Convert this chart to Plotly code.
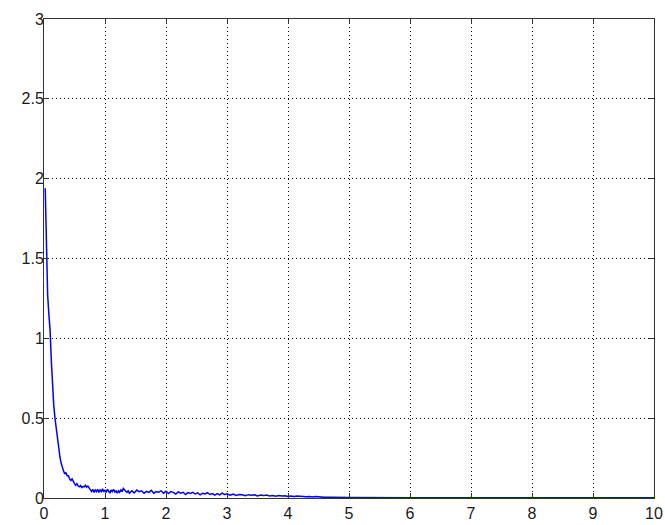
import plotly.graph_objects as go

# Sampled response: time (s) and amplitude
t = [0.02, 0.03, 0.04, 0.05, 0.06, 0.08, 0.10, 0.12, 0.14, 0.16, 0.18, 0.20,
     0.22, 0.24, 0.26, 0.28, 0.30, 0.32, 0.34, 0.36, 0.38, 0.40, 0.42, 0.44,
     0.46, 0.48, 0.50, 0.52, 0.54, 0.56, 0.58, 0.60, 0.62, 0.64, 0.66, 0.68,
     0.70, 0.72, 0.74, 0.76, 0.78, 0.80, 0.82, 0.84, 0.86, 0.88, 0.90, 0.92,
     0.94, 0.96, 0.98, 1.00, 1.02, 1.04, 1.06, 1.08, 1.10, 1.12, 1.14, 1.16,
     1.18, 1.20, 1.22, 1.24, 1.26, 1.28, 1.30, 1.32, 1.34, 1.36, 1.38, 1.40,
     1.44, 1.48, 1.52, 1.56, 1.60, 1.64, 1.68, 1.72, 1.76, 1.80, 1.84, 1.88,
     1.92, 1.96, 2.00, 2.04, 2.08, 2.12, 2.16, 2.20, 2.24, 2.28, 2.32, 2.36,
     2.40, 2.44, 2.48, 2.52, 2.56, 2.60, 2.64, 2.68, 2.72, 2.76, 2.80, 2.84,
     2.88, 2.92, 2.96, 3.00, 3.05, 3.10, 3.15, 3.20, 3.25, 3.30, 3.35, 3.40,
     3.45, 3.50, 3.55, 3.60, 3.65, 3.70, 3.75, 3.80, 3.85, 3.90, 3.95, 4.00,
     4.05, 4.10, 4.15, 4.20, 4.25, 4.30, 4.35, 4.40, 4.45, 4.50, 4.55, 4.60,
     4.70, 4.80, 5.00, 6.00, 7.00, 8.00, 9.00, 10.00]

y = [1.94, 1.75, 1.56, 1.42, 1.27, 1.15, 1.05, 0.86, 0.70, 0.58, 0.50, 0.43,
     0.36, 0.30, 0.26, 0.22, 0.19, 0.17, 0.15, 0.16, 0.14, 0.14, 0.12, 0.11,
     0.12, 0.10, 0.09, 0.08, 0.09, 0.075, 0.07, 0.078, 0.065, 0.072, 0.07, 0.08,
     0.068, 0.075, 0.06, 0.052, 0.04, 0.055, 0.035, 0.05, 0.04, 0.055, 0.035, 0.05,
     0.04, 0.058, 0.038, 0.05, 0.035, 0.055, 0.042, 0.03, 0.05, 0.04, 0.055, 0.038,
     0.045, 0.03, 0.045, 0.035, 0.05, 0.04, 0.06, 0.05, 0.042, 0.035, 0.045, 0.03,
     0.045, 0.032, 0.05, 0.04, 0.045, 0.03, 0.042, 0.035, 0.048, 0.03, 0.04, 0.036,
     0.045, 0.03, 0.042, 0.028, 0.04, 0.035, 0.025, 0.038, 0.03, 0.036, 0.022, 0.034,
     0.028, 0.035, 0.025, 0.032, 0.02, 0.03, 0.026, 0.033, 0.022, 0.028, 0.018, 0.027,
     0.02, 0.03, 0.022, 0.026, 0.018, 0.024, 0.016, 0.022, 0.02, 0.015, 0.021, 0.017,
     0.02, 0.013, 0.018, 0.015, 0.019, 0.012, 0.016, 0.011, 0.015, 0.012, 0.014, 0.01,
     0.013, 0.009, 0.012, 0.01, 0.011, 0.008, 0.01, 0.007, 0.009, 0.006, 0.007, 0.004,
     0.004, 0.003, 0.003, 0.002, 0.002, 0.002, 0.002, 0.002]

x_ticks = [0, 1, 2, 3, 4, 5, 6, 7, 8, 9, 10]
y_ticks = [0, 0.5, 1, 1.5, 2, 2.5, 3]
y_tick_text = ["0", "0.5", "1", "1.5", "2", "2.5", "3"]

fig = go.Figure()
fig.add_trace(go.Scatter(x=t, y=y, mode="lines",
                         line=dict(color="#0000ff", width=1.5),
                         showlegend=False))

axis_common = dict(
    showline=True, linecolor="#333333", linewidth=1, mirror="allticks",
    ticks="inside", ticklen=5, tickcolor="#333333", tickwidth=1,
    showgrid=True, gridcolor="#000000", gridwidth=1, griddash="1px,3px",
    zeroline=False, automargin=False,
    tickfont=dict(family="Liberation Sans, Arial, sans-serif", size=16, color="#1a1a1a"),
)

fig.update_xaxes(range=[0, 10], tickvals=x_ticks,
                 ticktext=[str(v) for v in x_ticks],
                 ticklabelstandoff=1, **axis_common)
fig.update_yaxes(range=[0, 3], tickvals=y_ticks, ticktext=y_tick_text,
                 ticklabelstandoff=-4, **axis_common)

fig.update_layout(
    width=665, height=525,
    margin=dict(l=44, r=11, t=19, b=27),
    paper_bgcolor="white", plot_bgcolor="white",
)

fig.write_html("out.html")
